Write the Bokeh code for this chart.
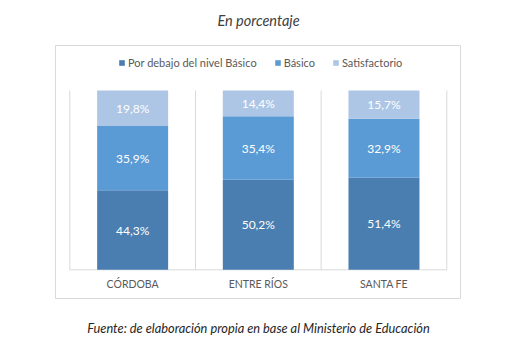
from bokeh.plotting import figure
from bokeh.models import ColumnDataSource, Range1d, Legend, LegendItem
from bokeh.core.properties import value
from bokeh.embed import file_html
from bokeh.resources import INLINE

# ---- data ----
provincias = ["CÓRDOBA", "ENTRE RÍOS", "SANTA FE"]
por_debajo = [44.3, 50.2, 51.4]
basico = [35.9, 35.4, 32.9]
satisfactorio = [19.8, 14.4, 15.7]
series_names = ["Por debajo del nivel Básico", "Básico", "Satisfactorio"]
titulo = "En porcentaje"
fuente = "Fuente: de elaboración propia en base al Ministerio de Educación"

colors = ["#4A7EB0", "#5B9BD5", "#ADC6E6"]
FONT = "Lato"

W, H = 510, 353
# pixel geometry of the plot area (category axis 0..3, value axis 0..100)
PX0, PX3 = 69.3, 446.3
PY0, PY100 = 269.3, 90.0
sx = (PX3 - PX0) / 3.0
sy = (PY0 - PY100) / 100.0


def dx(px):
    return (px - PX0) / sx


def dy(py):
    return (PY0 - py) / sy


p = figure(width=W, height=H, output_backend="svg", toolbar_location=None,
           x_range=Range1d(dx(0), dx(W)), y_range=Range1d(dy(H), dy(0)),
           min_border=0, min_border_left=0, min_border_right=0,
           min_border_top=0, min_border_bottom=0)
p.axis.visible = False
p.grid.visible = False
p.outline_line_color = None
p.background_fill_color = "white"
p.border_fill_color = "white"

# outer chart box
p.quad(left=[dx(55)], right=[dx(460)], top=[dy(45)], bottom=[dy(298)],
       fill_color=None, line_color="#D9D9D9", line_width=1)

xs = [i + 0.5 for i in range(len(provincias))]
src = ColumnDataSource(dict(x=xs, a=por_debajo, b=basico, c=satisfactorio))

# category separators and base line
n = len(provincias)
p.segment(x0=list(range(n + 1)), y0=[0] * (n + 1),
          x1=list(range(n + 1)), y1=[100] * (n + 1),
          line_color="#D9D9D9", line_width=1)
p.segment(x0=[0], y0=[0], x1=[n], y1=[0], line_color="#D9D9D9", line_width=1)

renderers = p.vbar_stack(["a", "b", "c"], x="x", width=0.565, source=src,
                         color=colors, line_color=None)

# value labels
lx, ly, lt = [], [], []
for i in range(n):
    base = 0.0
    for v in (por_debajo[i], basico[i], satisfactorio[i]):
        lx.append(xs[i])
        ly.append(base + v / 2.0)
        lt.append(f"{v:.1f}%".replace(".", ","))
        base += v
p.text(x=lx, y=ly, text=lt, text_color="white", text_align="center",
       text_baseline="middle", text_font=value(FONT), text_font_size="12px")

# category labels
p.text(x=xs, y=[dy(283)] * n, text=provincias, text_color="#595959",
       text_align="center", text_baseline="middle", text_font=value(FONT),
       text_font_size="10.5px")

# title and source
p.text(x=[dx(258)], y=[dy(20)], text=[titulo], text_color="#404040",
       text_align="center", text_baseline="middle", text_font=value(FONT),
       text_font_size="14.5px", text_font_style="italic")
p.text(x=[dx(258)], y=[dy(327)], text=[fuente], text_color="#262626",
       text_align="center", text_baseline="middle", text_font=value(FONT),
       text_font_size="12.8px", text_font_style="italic")

legend = Legend(items=[LegendItem(label=nm, renderers=[r]) for nm, r in zip(series_names, renderers)],
                orientation="horizontal", location=(118, H - 63 - 6),
                padding=0, margin=0, spacing=17, label_standoff=3,
                glyph_width=7, glyph_height=7, label_height=12,
                label_text_font=FONT, label_text_font_size="11px",
                label_text_color="#595959", background_fill_alpha=0,
                border_line_color=None)
p.add_layout(legend)

open("out.html", "w").write(file_html(p, INLINE))
